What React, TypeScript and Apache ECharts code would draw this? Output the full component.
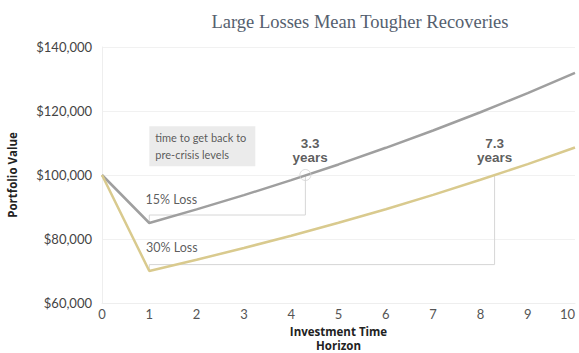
import React, { useEffect, useRef } from "react";
import * as echarts from "echarts";

const years = [0, 1, 2, 3, 4, 5, 6, 7, 8, 9, 10];
const loss15Values = [100000, 85000, 89250, 93700, 98400, 103300, 108500, 113900, 119600, 125600, 131900];
const loss30Values = [100000, 70000, 73500, 77200, 81000, 85100, 89300, 93800, 98500, 103400, 108600];
const yTicks = [60000, 80000, 100000, 120000, 140000];
const recovery15 = 4.3; // 1 + 3.3 years
const recovery30 = 8.3; // 1 + 7.3 years
const preCrisisLevel = 100000;
const bracket15Level = 87500;
const bracket30Level = 72000;
const recoveryLabels = ["3.3\nyears", "7.3\nyears"];
const lossLabels = ["15% Loss", "30% Loss"];
const lossLabelPos = [[0.92, 92200], [0.93, 77500]];
const yearLabelPos = [[4.4, 107800], [8.3, 107800]];
const noteText = "time to get back to\npre-crisis levels";
const notePos = [1, 109000];

export default function App() {
  const ref = useRef<HTMLDivElement>(null);
  useEffect(() => {
    if (!ref.current) return;
    const chart = echarts.init(ref.current, undefined, { renderer: "svg" });
    const font = "Lato, 'Open Sans', sans-serif";
    chart.setOption({
      animation: false,
      backgroundColor: "#ffffff",
      title: {
        text: "Large Losses Mean Tougher Recoveries",
        left: 355,
        textAlign: "center",
        top: 7,
        textStyle: {
          fontFamily: "'Liberation Serif', 'DejaVu Serif', serif",
          fontWeight: "normal",
          fontSize: 18.5,
          color: "#55606e",
        },
      },
      grid: { left: 102, right: 4, top: 47, bottom: 50, outerBoundsMode: "none", containLabel: false },
      xAxis: {
        type: "value",
        min: 0,
        max: 10,
        interval: 1,
        name: "Investment Time\nHorizon",
        nameLocation: "middle",
        nameGap: 16,
        nameTextStyle: {
          fontFamily: "'Open Sans', sans-serif",
          fontWeight: "bold",
          fontSize: 11.5,
          color: "#222",
          lineHeight: 13.5,
          verticalAlign: "top",
        },
        axisLine: { show: true, lineStyle: { color: "#eeeeee" } },
        axisTick: { show: false },
        splitLine: { show: false },
        axisLabel: { fontFamily: font, fontSize: 13, color: "#555", margin: 4, alignMaxLabel: "right" },
      },
      yAxis: {
        type: "value",
        min: yTicks[0],
        max: yTicks[yTicks.length - 1],
        interval: 20000,
        name: "Portfolio Value",
        nameLocation: "middle",
        nameGap: 84,
        nameTextStyle: {
          fontFamily: "'Open Sans', sans-serif",
          fontWeight: "bold",
          fontSize: 11.5,
          color: "#222",
        },
        axisLine: { show: true, lineStyle: { color: "#eeeeee" } },
        axisTick: { show: false },
        splitLine: { show: true, lineStyle: { color: "#f1f1f1" } },
        axisLabel: {
          fontFamily: font,
          fontSize: 13,
          color: "#444",
          margin: 10,
          formatter: (v: number) => "$" + v.toLocaleString("en-US"),
        },
      },
      series: [
        {
          type: "line",
          data: [[1, loss15Values[1]], [1, bracket15Level], [recovery15, bracket15Level], [recovery15, preCrisisLevel]],
          symbol: "none",
          lineStyle: { color: "#d6d6d6", width: 1 },
          z: 1,
        },
        {
          type: "line",
          data: [[1, loss30Values[1]], [1, bracket30Level], [recovery30, bracket30Level], [recovery30, preCrisisLevel]],
          symbol: "none",
          lineStyle: { color: "#d6d6d6", width: 1 },
          z: 1,
        },
        {
          name: "15% Loss",
          type: "line",
          data: years.map((x, i) => [x, loss15Values[i]]),
          symbol: "none",
          lineStyle: { color: "#9f9f9f", width: 2.5 },
          z: 3,
        },
        {
          name: "30% Loss",
          type: "line",
          data: years.map((x, i) => [x, loss30Values[i]]),
          symbol: "none",
          lineStyle: { color: "#d9ca8e", width: 2.5 },
          z: 3,
        },
        {
          type: "scatter",
          data: [[recovery15, preCrisisLevel]],
          symbol: "circle",
          symbolSize: 11,
          itemStyle: { color: "transparent", borderColor: "#d2d2d2", borderWidth: 1 },
          z: 4,
        },
        {
          type: "scatter",
          symbolSize: 0,
          data: lossLabelPos.map((p, i) => ({ value: p, label: { formatter: lossLabels[i] } })),
          label: {
            show: true,
            position: "right",
            distance: 0,
            fontFamily: font,
            fontSize: 12.5,
            color: "#333",
          },
          z: 5,
        },
        {
          type: "scatter",
          symbolSize: 0,
          data: yearLabelPos.map((p, i) => ({ value: p, label: { formatter: recoveryLabels[i] } })),
          label: {
            show: true,
            position: "inside",
            fontFamily: "'Liberation Sans', Arial, sans-serif",
            fontWeight: "bold",
            fontSize: 13.5,
            lineHeight: 14,
            color: "#333",
            align: "center",
          },
          z: 5,
        },
        {
          type: "scatter",
          symbolSize: 0,
          data: [{ value: notePos }],
          label: {
            show: true,
            position: "right",
            distance: 0,
            formatter: noteText,
            fontFamily: font,
            fontSize: 11,
            lineHeight: 17,
            color: "#333",
            backgroundColor: "#e6e6e6",
            padding: [3, 9, 3, 6],
          },
          z: 5,
        },
      ],
    });
    return () => chart.dispose();
  }, []);
  return (
    <div
      ref={ref}
      style={{ position: "fixed", left: 0, top: 0, width: 579, height: 353 }}
    />
  );
}
